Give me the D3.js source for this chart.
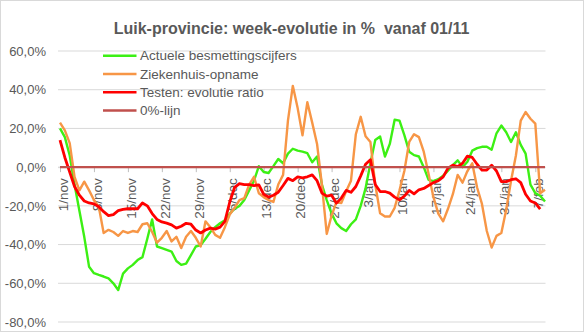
<!DOCTYPE html>
<html>
<head>
<meta charset="utf-8">
<script src="https://cdn.jsdelivr.net/npm/d3@7"></script>
<style>
  html, body { margin: 0; padding: 0; background: #fff; }
  svg { display: block; font-family: "Liberation Sans", Arial, sans-serif; }
</style>
</head>
<body>
<svg id="chart" width="584" height="332"></svg>
<script>
// Daily week-on-week evolution (%) for Luik province, starting 1 November 2020
const startDate = new Date(2020, 10, 1);

const tickLabels = ["1/nov", "8/nov", "15/nov", "22/nov", "29/nov", "6/dec", "13/dec",
  "20/dec", "27/dec", "3/jan", "10/jan", "17/jan", "24/jan", "31/jan", "7/feb"];

const yTicks = [60, 40, 20, 0, -20, -40, -60, -80];

const seriesNames = ["Actuele besmettingscijfers", "Ziekenhuis-opname", "Testen: evolutie ratio", "0%-lijn"];

const besmettingen = [20, 15.5, 6, -9, -22.5, -36, -51.5, -54.8, -55.7, -56.5,
  -57.5, -60, -63.5, -55, -52.3, -50.5, -48, -46.5, -37, -27,
  -41, -41.8, -42.7, -43.6, -48.5, -50.5, -49.8, -45.5, -41, -40.3,
  -37, -33.5, -31, -29, -27.5, -24, -21.5, -20, -17, -12,
  -7, 0.5, -2.5, -3, 0.5, 4.2, 2, 7, 9.5, 8.5,
  8, 7.2, 2.5, 5.5, -9, -17, -24, -29, -31.5, -33,
  -29.5, -27, -20, -11, 2, 14, 15.8, 5.5, 12, 24.5,
  24, 16.5, 8, 6.2, 5.5, 0, -6.6, -7.2, -6.2, -4.5,
  -1.8, 1, 3.5, 0, 2.8, 8.5, 9.8, 10.5, 10.5, 9,
  17.5, 21.5, 18, 13, 18, 11.5, 7, -9, -13.4, -14.8,
  -17.8];

const ziekenhuis = [23, 19, 12.4, -5, -12, -7.5, -12, -17, -20.5, -34,
  -32.4, -33.5, -35.5, -33, -34, -33, -33.5, -29.5, -29, -33.5,
  -39, -36.5, -33, -38.4, -36, -41.8, -36, -33, -36.5, -41,
  -28, -31, -35, -36.5, -31, -24.5, -21, -17, -16, -9,
  -5, -13.5, -15.5, -17, -18, -9, -4, 24, 42, 30.5,
  16.5, 33.5, 23, 12, -9, -34.5, -25, -18, -18.5, -12.5,
  -7, 17, 26, 16, 13, -9, -23.8, -25.5, -25.5, -21,
  -12, -2, 13, 17, 15.5, 8, -3.5, -15.5, -24, -28,
  -21.5, -14, -4, -8, -2, 2, -10.5, -19, -33, -41.5,
  -35.5, -34, -22, -7, 6, 24, 28.5, 25, 22.5, -13.5,
  -11.7];

const testen = [14, 5, -2.5, -10, -14.5, -17.5, -18.5, -19, -20.5, -23,
  -25, -24.5, -22.5, -21.8, -21.5, -21.5, -21.5, -18.5, -20, -24,
  -27, -28.3, -28.9, -29.8, -31.5, -30.5, -29, -29.5, -32.5, -34,
  -32.5, -31.5, -32, -31, -28, -18, -10.5, -8.5, -9, -9,
  -9.5, -9.2, -14, -15.5, -14.5, -13, -9.5, -5.8, -7, -5,
  -5.5, -5, -4, -7, -13.4, -15, -14.5, -18.6, -16, -12,
  -13, -10, -4.5, 1.5, 3.8, -9, -12.6, -12.6, -13.4, -15.5,
  -16.9, -15, -12, -13.8, -11.7, -11, -9.5, -8, -7, -5,
  -0.5, 1, 0.3, 2, 5.7, 5, 1.5, -1.5, -1.5, 1,
  -2, -7.5, -7.5, -6.5, -6, -8, -14, -17.5, -18.5, -21.7];

const nulLijn = 0;

const colors = ["#3cf014", "#f79646", "#ff0000", "#c0504d"];
const textColor = "#595959";

const W = 584, H = 332;
const plot = { left: 58, right: 545.5, top: 51, bottom: 322 };

const svg = d3.select("#chart");

// outer frame
svg.append("rect")
  .attr("x", 0.5).attr("y", 0.5)
  .attr("width", W - 1).attr("height", H - 1)
  .attr("fill", "#fff").attr("stroke", "#d9d9d9");

const dayOf = i => d3.timeDay.offset(startDate, i);
const lastDay = Math.max(besmettingen.length, ziekenhuis.length, testen.length) - 1;

const x = d3.scaleTime()
  .domain([startDate, dayOf(lastDay)])
  .range([60, 545]);

const y = d3.scaleLinear()
  .domain([-80, 60])
  .range([plot.bottom, plot.top]);

// title
svg.append("text")
  .attr("x", 291.5).attr("y", 33.5)
  .attr("text-anchor", "middle")
  .attr("font-size", 16).attr("font-weight", "bold")
  .attr("fill", textColor)
  .attr("xml:space", "preserve")
  .text("Luik-provincie: week-evolutie in %  vanaf 01/11");

// horizontal gridlines
svg.append("g")
  .selectAll("line")
  .data(yTicks)
  .join("line")
  .attr("x1", plot.left).attr("x2", plot.right)
  .attr("y1", d => y(d)).attr("y2", d => y(d))
  .attr("stroke", "#d9d9d9").attr("stroke-width", 1);

// y axis labels
const nl = d3.formatLocale({ decimal: ",", thousands: ".", grouping: [3], currency: ["€", ""], minus: "-" });
const pct = nl.format(".1f");
const yAxis = d3.axisLeft(y)
  .tickValues(yTicks)
  .tickSize(0)
  .tickPadding(0)
  .tickFormat(d => pct(d) + "%");
const gy = svg.append("g")
  .attr("transform", "translate(46,0)")
  .call(yAxis);
gy.select(".domain").remove();
gy.selectAll("text")
  .attr("font-size", 13)
  .attr("font-family", "Liberation Sans, Arial, sans-serif")
  .attr("fill", textColor);

// x axis along 0%
const tickDates = tickLabels.map((_, i) => dayOf(i * 7));
const xAxis = d3.axisBottom(x)
  .tickValues(tickDates)
  .tickSize(5)
  .tickFormat((d, i) => tickLabels[i]);
const gx = svg.append("g")
  .attr("transform", `translate(0,${y(0)})`)
  .call(xAxis);
gx.select(".domain")
  .attr("d", `M${plot.left},0.5H${plot.right}`)
  .attr("stroke", "#d9d9d9");
gx.selectAll(".tick line").attr("stroke", "#bfbfbf");
gx.selectAll(".tick text")
  .attr("font-size", 13.5)
  .attr("font-family", "Liberation Sans, Arial, sans-serif")
  .attr("fill", textColor)
  .attr("text-anchor", "end")
  .attr("transform", "translate(2.5,11) rotate(-90)")
  .attr("x", 0)
  .attr("y", 0)
  .attr("dy", "0.35em");

// series lines
const lineGen = d3.line()
  .x((d, i) => x(dayOf(i)))
  .y(d => y(d));

const series = [besmettingen, ziekenhuis, testen];
const widths = [2.4, 2.4, 2.8];
series.forEach((vals, k) => {
  svg.append("path")
    .datum(vals)
    .attr("d", lineGen)
    .attr("fill", "none")
    .attr("stroke", colors[k])
    .attr("stroke-width", widths[k])
    .attr("stroke-linejoin", "round");
});

// 0% reference line
svg.append("line")
  .attr("x1", x(startDate)).attr("x2", x(dayOf(lastDay)))
  .attr("y1", y(nulLijn)).attr("y2", y(nulLijn))
  .attr("stroke", colors[3]).attr("stroke-width", 2.4);

// legend
const legend = svg.append("g");
const legendY = [55.7, 74, 92.3, 110.5];
seriesNames.forEach((name, k) => {
  legend.append("line")
    .attr("x1", 103).attr("x2", 136.5)
    .attr("y1", legendY[k]).attr("y2", legendY[k])
    .attr("stroke", colors[k]).attr("stroke-width", 2.6);
  legend.append("text")
    .attr("x", 140).attr("y", legendY[k])
    .attr("dy", "0.35em")
    .attr("font-size", 13.5)
    .attr("fill", textColor)
    .text(name);
});
</script>
</body>
</html>
